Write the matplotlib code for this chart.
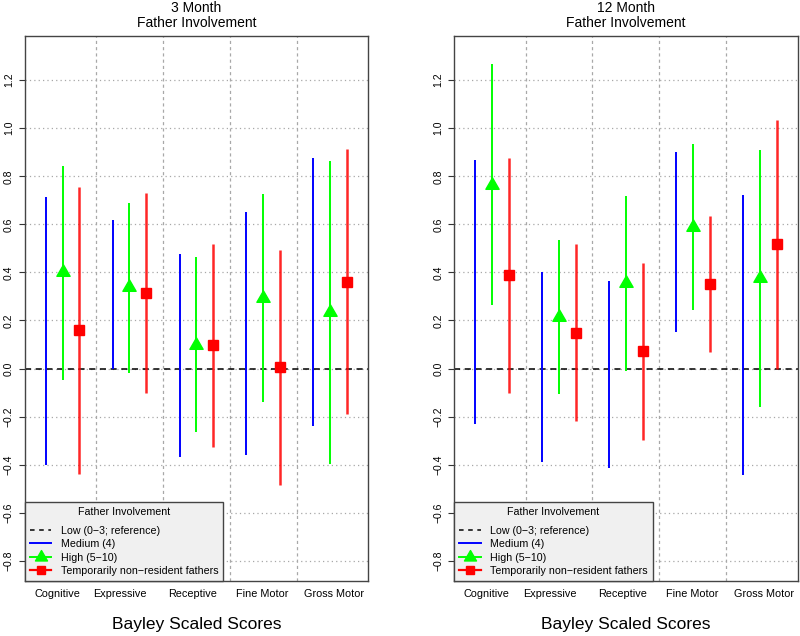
import numpy as np
import matplotlib
matplotlib.use("Agg")
import matplotlib.pyplot as plt
from matplotlib.lines import Line2D
from matplotlib.path import Path

plt.rcParams['font.family'] = ['Liberation Sans', 'DejaVu Sans']

categories = ["Cognitive", "Expressive", "Receptive", "Fine Motor", "Gross Motor"]
label_shift = [-0.085, -0.14, -0.05, -0.01, 0.06]

# 3 month: confidence intervals (medium has no point estimate drawn)
m3_medium_lo = [-0.40, 0.00, -0.367, -0.361, -0.238]
m3_medium_hi = [0.715, 0.62, 0.478, 0.653, 0.876]
m3_high = [0.40, 0.34, 0.10, 0.295, 0.235]
m3_high_lo = [-0.049, -0.017, -0.263, -0.139, -0.396]
m3_high_hi = [0.844, 0.69, 0.464, 0.726, 0.864]
m3_tnr = [0.16, 0.315, 0.098, 0.005, 0.362]
m3_tnr_lo = [-0.44, -0.10, -0.327, -0.484, -0.189]
m3_tnr_hi = [0.757, 0.73, 0.52, 0.494, 0.912]

# 12 month
m12_medium_lo = [-0.231, -0.389, -0.413, 0.15, -0.443]
m12_medium_hi = [0.867, 0.401, 0.365, 0.901, 0.724]
m12_high = [0.765, 0.215, 0.355, 0.588, 0.375]
m12_high_lo = [0.265, -0.104, -0.011, 0.242, -0.161]
m12_high_hi = [1.269, 0.533, 0.717, 0.935, 0.908]
m12_tnr = [0.388, 0.148, 0.071, 0.351, 0.517]
m12_tnr_lo = [-0.10, -0.218, -0.296, 0.067, 0.0]
m12_tnr_hi = [0.876, 0.517, 0.439, 0.636, 1.035]

yticks = [-0.8, -0.6, -0.4, -0.2, 0.0, 0.2, 0.4, 0.6, 0.8, 1.0, 1.2]

BLUE = "#0000ff"
GREEN = "#00ff00"
RED = "#ff0000"

# R style filled triangle (pch 17), centred on its centroid
tri = Path([(0, 1.555), (1.347, -0.778), (-1.347, -0.778), (0, 1.555)],
           [Path.MOVETO, Path.LINETO, Path.LINETO, Path.CLOSEPOLY])


def draw_panel(ax, title, med_lo, med_hi, hi, hi_lo, hi_hi, tnr, tnr_lo, tnr_hi):
    x = np.arange(1, len(categories) + 1)
    off = 0.25
    for yv in yticks:
        ax.axhline(yv, color="#a8a8a8", lw=0.9, ls=(0, (1, 2.5)), zorder=0)
    for xv in x[:-1] + 0.5:
        ax.axvline(xv, color="#a8a8a8", lw=0.9, ls=(0, (2.5, 2.5)), zorder=0)
    ax.axhline(0, color="black", lw=1.1, ls=(0, (4, 3)), zorder=1)

    ax.vlines(x - off, med_lo, med_hi, color=BLUE, lw=1.4, zorder=2)
    ax.vlines(x, hi_lo, hi_hi, color=GREEN, lw=1.4, zorder=2)
    ax.plot(x, hi, ls="none", marker=tri, ms=11, color=GREEN, mec=GREEN, zorder=3)
    ax.vlines(x + off, tnr_lo, tnr_hi, color=RED, lw=1.8, alpha=0.85, zorder=2)
    ax.plot(x + off, tnr, ls="none", marker="s", ms=7, color=RED, zorder=3)

    ax.set_xlim(0.436, 5.566)
    ax.set_ylim(-0.884, 1.384)
    ax.set_yticks(yticks)
    ax.set_yticklabels([f"{v:.1f}".replace("-", "\u2212") for v in yticks],
                       rotation=90, va="center", fontsize=7.5)
    ax.tick_params(axis="y", length=4, width=0.8, pad=4, color="#333333")
    ax.set_xticks(x + np.array(label_shift))
    ax.set_xticklabels(categories, fontsize=7.8)
    ax.tick_params(axis="x", length=0, pad=5.5)
    for s in ax.spines.values():
        s.set_color("#444444")
        s.set_linewidth(1.0)
    ax.set_title(title, fontsize=10, pad=6.5, linespacing=1.05)
    ax.set_xlabel("Bayley Scaled Scores", fontsize=12.5, labelpad=13)

    handles = [
        Line2D([], [], color="black", lw=1.1, ls=(0, (3, 3))),
        Line2D([], [], color=BLUE, lw=1.4),
        Line2D([], [], color=GREEN, lw=1.4, marker=tri, ms=10),
        Line2D([], [], color=RED, lw=1.6, marker="s", ms=6),
    ]
    labels = ["Low (0\u22123; reference)", "Medium (4)", "High (5\u221210)",
              "Temporarily non\u2212resident fathers"]
    leg = ax.legend(handles, labels, loc="lower left", title="Father Involvement",
                    fontsize=7.7, title_fontsize=7.7, borderaxespad=0.0,
                    fancybox=False, framealpha=1, handlelength=2.0,
                    handletextpad=0.9, labelspacing=0.33, borderpad=0.45)
    leg.get_frame().set_facecolor("#f0f0f0")
    leg.get_frame().set_edgecolor("#444444")
    leg.get_frame().set_linewidth(1.0)
    leg._legend_box.align = "center"
    leg._legend_box.sep = 6


fig = plt.figure(figsize=(8, 6.36), dpi=100)
ax1 = fig.add_axes([0.03125, 0.0865, 0.4284, 0.857])
ax2 = fig.add_axes([0.5679, 0.0865, 0.4292, 0.857])

draw_panel(ax1, "3 Month\nFather Involvement", m3_medium_lo, m3_medium_hi,
           m3_high, m3_high_lo, m3_high_hi, m3_tnr, m3_tnr_lo, m3_tnr_hi)
draw_panel(ax2, "12 Month\nFather Involvement", m12_medium_lo, m12_medium_hi,
           m12_high, m12_high_lo, m12_high_hi, m12_tnr, m12_tnr_lo, m12_tnr_hi)

fig.savefig("out.png", dpi=100)
